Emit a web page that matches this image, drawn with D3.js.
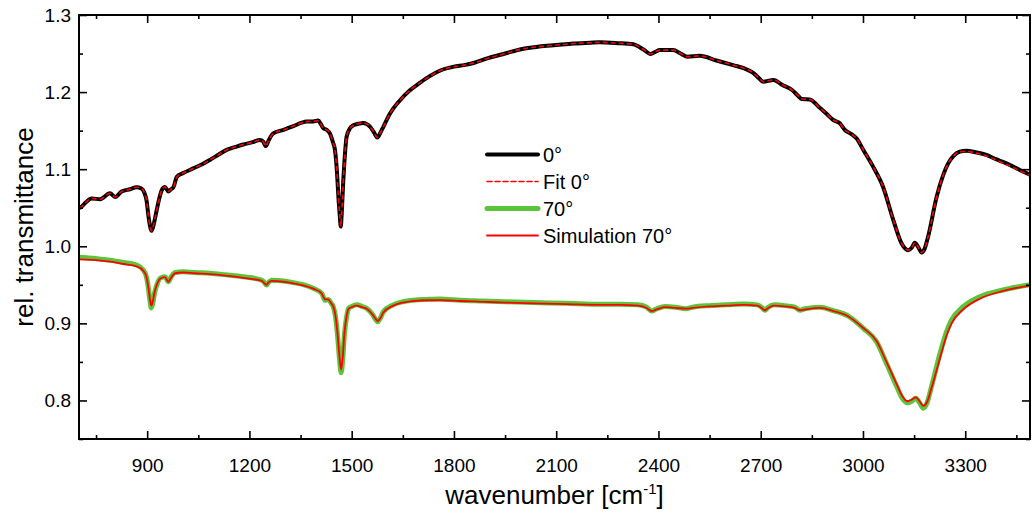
<!DOCTYPE html>
<html>
<head>
<meta charset="utf-8">
<script src="https://cdn.jsdelivr.net/npm/d3@7"></script>
<style>
  html, body { margin: 0; padding: 0; background: #fff; }
  svg { display: block; }
  text { font-family: "Liberation Sans", Arial, sans-serif; fill: #000; }
</style>
</head>
<body>
<svg id="chart" width="1032" height="514"></svg>
<script>
// ---------- data ----------
const wn0 = [700,705,720,737,762,791,806,825,850,869,883,893,898,905,913,920,928,936,943,952,962,970,977,987,1006,1035,1060,1084,1110,1133,1160,1182,1210,1231,1240,1248,1256,1270,1300,1329,1368,1387,1402,1410,1417,1427,1436,1445,1451,1457,1461,1465,1468,1471,1475,1480,1485,1495,1505,1520,1534,1554,1565,1575,1585,1593,1612,1642,1670,1700,1730,1760,1800,1830,1860,1900,1950,2000,2050,2100,2150,2200,2227,2280,2326,2355,2377,2390,2404,2443,2465,2484,2521,2570,2619,2650,2678,2695,2707,2737,2765,2791,2810,2820,2844,2870,2893,2913,2932,2947,2966,2981,3001,3030,3059,3089,3113,3133,3143,3152,3162,3172,3181,3191,3216,3235,3250,3265,3284,3304,3330,3362,3390,3421,3460,3490];
const trans0 = [1.050,1.0505,1.057,1.062,1.061,1.0687,1.064,1.071,1.074,1.0765,1.075,1.068,1.060,1.035,1.020,1.030,1.047,1.063,1.073,1.077,1.071,1.074,1.0765,1.090,1.095,1.101,1.106,1.112,1.119,1.125,1.129,1.132,1.135,1.138,1.136,1.130,1.137,1.1465,1.151,1.156,1.1617,1.162,1.163,1.158,1.153,1.151,1.1465,1.135,1.125,1.095,1.064,1.040,1.0255,1.045,1.082,1.118,1.142,1.153,1.157,1.159,1.160,1.155,1.148,1.141,1.148,1.155,1.172,1.1895,1.202,1.212,1.221,1.228,1.233,1.235,1.238,1.244,1.250,1.256,1.259,1.261,1.263,1.264,1.2645,1.2635,1.262,1.2555,1.2495,1.252,1.2545,1.2545,1.250,1.246,1.247,1.241,1.235,1.231,1.225,1.218,1.2135,1.2157,1.209,1.203,1.195,1.191,1.1905,1.181,1.172,1.1638,1.1595,1.1508,1.1456,1.140,1.125,1.103,1.077,1.034,1.004,0.995,0.998,1.0046,0.999,0.992,0.997,1.0124,1.064,1.092,1.1075,1.117,1.1227,1.124,1.122,1.1185,1.113,1.1075,1.099,1.093];
const fit0 = [1.050,1.0505,1.057,1.062,1.061,1.0687,1.064,1.071,1.074,1.0765,1.075,1.068,1.060,1.035,1.020,1.030,1.047,1.063,1.073,1.077,1.071,1.074,1.0765,1.090,1.095,1.101,1.106,1.112,1.119,1.125,1.129,1.132,1.135,1.138,1.136,1.130,1.137,1.1465,1.151,1.156,1.1617,1.162,1.163,1.158,1.153,1.151,1.1465,1.135,1.125,1.095,1.064,1.040,1.0255,1.045,1.082,1.118,1.142,1.153,1.157,1.159,1.160,1.155,1.148,1.141,1.148,1.155,1.172,1.1895,1.202,1.212,1.221,1.228,1.233,1.235,1.238,1.244,1.250,1.256,1.259,1.261,1.263,1.264,1.2645,1.2635,1.262,1.2555,1.2495,1.252,1.2545,1.2545,1.250,1.246,1.247,1.241,1.235,1.231,1.225,1.218,1.2135,1.2157,1.209,1.203,1.195,1.191,1.1905,1.181,1.172,1.1638,1.1595,1.1508,1.1456,1.140,1.125,1.103,1.077,1.034,1.004,0.995,0.998,1.0046,0.999,0.992,0.997,1.0124,1.064,1.092,1.1075,1.117,1.1225,1.123,1.121,1.117,1.112,1.106,1.098,1.092];

const wn70 = [700,750,791,830,869,889,898,903,908,912,916,922,930,938,952,962,970,982,1006,1040,1084,1130,1182,1236,1244,1250,1256,1265,1300,1329,1360,1387,1412,1422,1431,1440,1446,1452,1458,1464,1469,1474,1479,1485,1491,1500,1515,1530,1544,1562,1570,1576,1583,1593,1622,1650,1681,1720,1759,1818,1886,1950,2033,2130,2228,2287,2340,2365,2380,2395,2420,2450,2480,2500,2550,2600,2650,2690,2705,2712,2722,2740,2770,2800,2815,2830,2873,2913,2957,3001,3040,3069,3099,3115,3130,3143,3155,3166,3177,3188,3201,3226,3245,3260,3294,3343,3411,3490];
const trans70 = [0.9857,0.984,0.982,0.979,0.9757,0.969,0.960,0.9476,0.930,0.920,0.925,0.940,0.952,0.9585,0.9605,0.954,0.960,0.966,0.967,0.966,0.965,0.963,0.9605,0.956,0.953,0.9498,0.953,0.956,0.955,0.9528,0.950,0.9455,0.939,0.930,0.931,0.926,0.9216,0.910,0.887,0.855,0.836,0.855,0.887,0.908,0.9195,0.922,0.924,0.922,0.9195,0.911,0.905,0.902,0.906,0.915,0.924,0.928,0.930,0.931,0.9316,0.930,0.929,0.928,0.927,0.926,0.9247,0.9247,0.924,0.921,0.916,0.919,0.922,0.921,0.919,0.921,0.923,0.924,0.925,0.924,0.920,0.917,0.921,0.924,0.923,0.921,0.917,0.919,0.921,0.9166,0.9095,0.8936,0.876,0.848,0.818,0.803,0.797,0.799,0.8028,0.797,0.790,0.797,0.818,0.861,0.889,0.9044,0.9216,0.9346,0.9433,0.950];
const sim70 = [0.983,0.982,0.980,0.977,0.974,0.968,0.960,0.948,0.932,0.923,0.927,0.941,0.952,0.958,0.960,0.954,0.959,0.965,0.966,0.965,0.964,0.962,0.959,0.955,0.952,0.950,0.953,0.955,0.954,0.952,0.949,0.945,0.939,0.931,0.931,0.926,0.922,0.911,0.889,0.858,0.840,0.858,0.889,0.909,0.919,0.921,0.923,0.921,0.919,0.911,0.906,0.903,0.906,0.914,0.923,0.927,0.929,0.930,0.930,0.929,0.928,0.927,0.926,0.925,0.924,0.924,0.923,0.920,0.916,0.918,0.921,0.920,0.919,0.920,0.922,0.923,0.924,0.923,0.919,0.917,0.920,0.923,0.922,0.920,0.917,0.918,0.920,0.916,0.909,0.894,0.877,0.850,0.821,0.806,0.799,0.801,0.804,0.799,0.793,0.798,0.816,0.855,0.884,0.900,0.918,0.932,0.942,0.949];

const xTickValues = [900,1200,1500,1800,2100,2400,2700,3000,3300];
const yTickValues = [0.8,0.9,1.0,1.1,1.2,1.3];
const legendLabels = ["0°","Fit 0°","70°","Simulation 70°"];

// ---------- layout ----------
const svg = d3.select("#chart");
const L = 79, R = 1030, T = 15, B = 439;
const x = d3.scaleLinear().domain([700, 3490]).range([L, R]);
const y = d3.scaleLinear().domain([0.75, 1.3]).range([B, T]);

const FONT = '"Liberation Sans", Arial, sans-serif';

svg.append("clipPath").attr("id","clip").append("rect")
  .attr("x", L).attr("y", T).attr("width", R - L).attr("height", B - T);

const line = (xs, ys) => d3.line()
  .x((d, i) => x(xs[i])).y((d, i) => y(ys[i]))
  .curve(d3.curveMonotoneX)(ys);

const g = svg.append("g").attr("clip-path", "url(#clip)");
g.append("path").attr("d", line(wn70, trans70)).attr("fill","none")
  .attr("stroke","#5cc43a").attr("stroke-width",5).attr("stroke-linejoin","round");
g.append("path").attr("d", line(wn70, sim70)).attr("fill","none")
  .attr("stroke","#ff0000").attr("stroke-width",1.8).attr("stroke-linejoin","round");
g.append("path").attr("d", line(wn0, trans0)).attr("fill","none")
  .attr("stroke","#000").attr("stroke-width",4).attr("stroke-linejoin","round");
g.append("path").attr("d", line(wn0, fit0)).attr("fill","none")
  .attr("stroke","#ff0000").attr("stroke-width",1.6).attr("stroke-dasharray","5,3");

// ---------- axes ----------
const minorX = d3.range(750, 3490, 150).filter(v => v % 300 !== 0);
const minorY = [0.75,0.85,0.95,1.05,1.15,1.25];

function styleAxis(sel) {
  sel.select(".domain").remove();
  sel.selectAll(".tick line").attr("stroke","#000").attr("stroke-width",1.6);
  sel.selectAll(".tick text").attr("font-family", FONT).attr("font-size", 19).attr("fill","#000");
}

const gb = svg.append("g").attr("transform", `translate(0,${B})`)
  .call(d3.axisBottom(x).tickValues(xTickValues).tickSizeInner(-8).tickSizeOuter(0).tickPadding(20).tickFormat(d3.format("d")));
styleAxis(gb);
svg.append("g").attr("transform", `translate(0,${B})`)
  .call(d3.axisBottom(x).tickValues(minorX).tickSizeInner(-4).tickSizeOuter(0).tickFormat(""))
  .call(styleAxis);
svg.append("g").attr("transform", `translate(0,${T})`)
  .call(d3.axisTop(x).tickValues(xTickValues).tickSizeInner(-8).tickSizeOuter(0).tickFormat(""))
  .call(styleAxis);
svg.append("g").attr("transform", `translate(0,${T})`)
  .call(d3.axisTop(x).tickValues(minorX).tickSizeInner(-4).tickSizeOuter(0).tickFormat(""))
  .call(styleAxis);
const gl = svg.append("g").attr("transform", `translate(${L},0)`)
  .call(d3.axisLeft(y).tickValues(yTickValues).tickSizeInner(-8).tickSizeOuter(0).tickPadding(8).tickFormat(d3.format(".1f")));
styleAxis(gl);
svg.append("g").attr("transform", `translate(${L},0)`)
  .call(d3.axisLeft(y).tickValues(minorY).tickSizeInner(-4).tickSizeOuter(0).tickFormat(""))
  .call(styleAxis);
svg.append("g").attr("transform", `translate(${R},0)`)
  .call(d3.axisRight(y).tickValues(yTickValues).tickSizeInner(-8).tickSizeOuter(0).tickFormat(""))
  .call(styleAxis);
svg.append("g").attr("transform", `translate(${R},0)`)
  .call(d3.axisRight(y).tickValues(minorY).tickSizeInner(-4).tickSizeOuter(0).tickFormat(""))
  .call(styleAxis);

svg.append("rect").attr("x", L).attr("y", T).attr("width", R - L).attr("height", B - T)
  .attr("fill","none").attr("stroke","#000").attr("stroke-width",2);

// axis titles
const xt = svg.append("text").attr("x", (L + R) / 2).attr("y", 504)
  .attr("text-anchor","middle").attr("font-family", FONT).attr("font-size", 26);
xt.append("tspan").text("wavenumber [cm");
xt.append("tspan").attr("dy", -10).attr("font-size", 15).text("-1");
xt.append("tspan").attr("dy", 10).text("]");

svg.append("text").attr("transform", `translate(33,${(T + B) / 2}) rotate(-90)`)
  .attr("text-anchor","middle").attr("font-family", FONT).attr("font-size", 26)
  .text("rel. transmittance");

// ---------- legend ----------
const legStyles = [
  {stroke:"#000", width:4, dash:null},
  {stroke:"#ff0000", width:1.6, dash:"5,3"},
  {stroke:"#5cc43a", width:5, dash:null},
  {stroke:"#ff0000", width:1.8, dash:null}
];
const lg = svg.append("g");
legendLabels.forEach((lab, i) => {
  const yy = 154.5 + i * 27;
  lg.append("line").attr("x1", 487).attr("x2", 538).attr("y1", yy).attr("y2", yy)
    .attr("stroke", legStyles[i].stroke).attr("stroke-width", legStyles[i].width)
    .attr("stroke-dasharray", legStyles[i].dash).attr("stroke-linecap","round");
  lg.append("text").attr("x", 543).attr("y", yy).attr("dy","0.36em")
    .attr("font-family", FONT).attr("font-size", 20).text(lab);
});
</script>
</body>
</html>
